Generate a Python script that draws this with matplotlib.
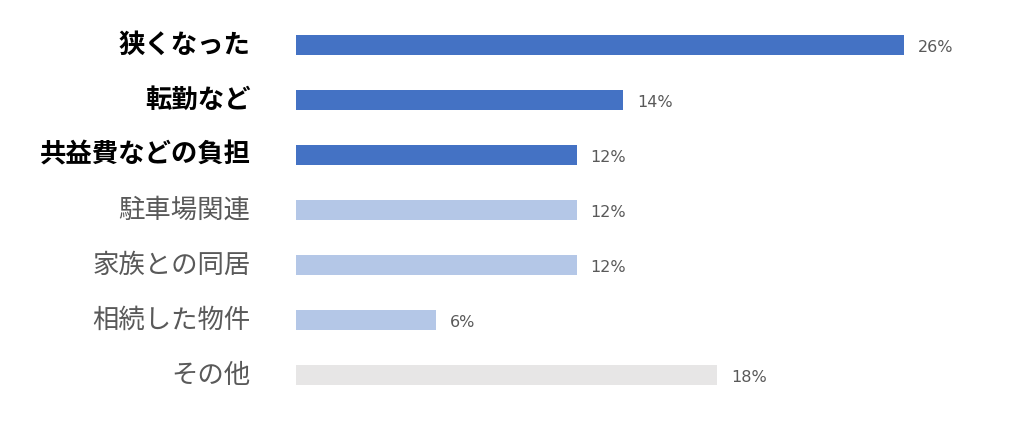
import matplotlib.pyplot as plt

plt.rcParams['font.family'] = ['Noto Sans CJK JP', 'DejaVu Sans']

categories = ['狭くなった', '転勤など', '共益費などの負担', '駐車場関連', '家族との同居', '相続した物件', 'その他']
values = [26, 14, 12, 12, 12, 6, 18]
highlight = [True, True, True, False, False, False, False]
colors = ['#4472C4', '#4472C4', '#4472C4', '#B4C7E7', '#B4C7E7', '#B4C7E7', '#E7E6E6']

fig = plt.figure(figsize=(10.24, 4.29), dpi=100)
ax = fig.add_axes([296 / 1024, 1 - 402.5 / 429, (904 - 296) / 1024, 385 / 429])

y = list(range(len(categories)))
ax.barh(y, values, height=0.36, color=colors)
ax.set_xlim(0, 26)
ax.set_ylim(len(categories) - 0.5, -0.5)

for i, (v, h) in enumerate(zip(values, highlight)):
    ax.text(v + 0.6, i + 0.05, f'{v}%', va='center', ha='left', fontsize=11.5,
            color='#595959', family=['DejaVu Sans'], clip_on=False)
    ax.text(-1.95, i, categories[i], va='center', ha='right', fontsize=19,
            color='black' if h else '#595959',
            fontweight='bold' if h else 'normal', clip_on=False)

ax.set_xticks([])
ax.set_yticks([])
for s in ax.spines.values():
    s.set_visible(False)

plt.savefig('out.png', dpi=100)
